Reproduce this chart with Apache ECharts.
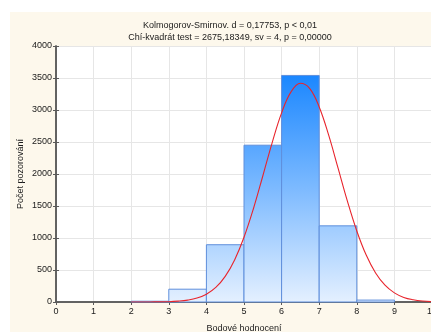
<!DOCTYPE html>
<html>
<head>
<meta charset="utf-8">
<script src="https://cdn.jsdelivr.net/npm/echarts@6/dist/echarts.min.js"></script>
<style>
  html, body { margin: 0; padding: 0; background: #ffffff; }
  #chart { width: 431px; height: 332px; }
</style>
</head>
<body>
<div id="chart"></div>
<script>
// Histogram bins: [lower bound, upper bound, count]
const binStarts = [2, 3, 4, 5, 6, 7, 8];
const binEnds   = [3, 4, 5, 6, 7, 8, 9];
const binCounts = [12, 200, 895, 2450, 3540, 1190, 30];

// Expected normal curve (counts per unit bin)
const curveX = [2, 2.5, 3, 3.25, 3.5, 3.75, 4, 4.25, 4.5, 4.75, 5, 5.25, 5.5, 5.75, 6, 6.25, 6.5,
                6.75, 7, 7.25, 7.5, 7.75, 8, 8.25, 8.5, 8.75, 9, 9.25, 9.5, 9.75, 10, 10.5];
const curveY = [0, 1, 5, 13, 29, 61, 122, 227, 400, 658, 1012, 1457, 1969, 2491, 2955, 3283, 3418,
                3335, 3048, 2611, 2095, 1576, 1110, 733, 454, 263, 143, 72, 35, 15, 6, 1];

const xTicks = [0, 1, 2, 3, 4, 5, 6, 7, 8, 9, 10];
const yTicks = [0, 500, 1000, 1500, 2000, 2500, 3000, 3500, 4000];

const titleLines = [
  'Kolmogorov-Smirnov. d = 0,17753, p < 0,01',
  'Chí-kvadrát test = 2675,18349, sv = 4, p = 0,00000'
];
const xName = 'Bodové hodnocení';
const yName = 'Počet pozorování';

const FONT = '"Liberation Sans", Arial, sans-serif';
const chart = echarts.init(document.getElementById('chart'), null, { renderer: 'canvas' });

const histData = binStarts.map((s, i) => [s, binEnds[i], binCounts[i]]);
const maxCount = Math.max(...binCounts);

const axisLineStyle = { color: '#5a5a5a', width: 1.5 };
const labelStyle = { fontFamily: FONT, fontSize: 9, color: '#1a1a1a' };

chart.setOption({
  backgroundColor: '#ffffff',
  animation: false,
  graphic: [
    { type: 'rect', z: -10, shape: { x: 10, y: 12, width: 430, height: 330 },
      style: { fill: '#fdf8ec' } }
  ],
  title: {
    text: titleLines.join('\n'),
    left: 225, top: 15, textAlign: 'center',
    textStyle: { fontFamily: FONT, fontSize: 9, fontWeight: 'normal', color: '#1a1a1a', lineHeight: 11.5 }
  },
  grid: {
    left: 56, top: 46, right: -1, bottom: 30,
    outerBoundsMode: 'none', containLabel: false,
    backgroundColor: '#ffffff', show: true, borderWidth: 0
  },
  xAxis: [{
    type: 'value', min: 0, max: 10, interval: 1,
    name: xName, nameLocation: 'middle', nameGap: 22, nameMoveOverlap: false,
    nameTextStyle: labelStyle,
    axisLine: { show: true, lineStyle: axisLineStyle },
    axisTick: { show: true, length: 3, lineStyle: { color: '#5a5a5a' } },
    axisLabel: Object.assign({ margin: 5, formatter: v => xTicks.includes(v) ? String(v) : '' }, labelStyle),
    splitLine: { show: true, lineStyle: { color: '#e6e6e6', width: 1 } }
  }, {
    type: 'value', min: 0, max: 10, interval: 1, position: 'top',
    axisLine: { show: true, lineStyle: axisLineStyle },
    axisTick: { show: true, inside: true, length: 3, lineStyle: { color: '#5a5a5a' } },
    axisLabel: { show: false }, splitLine: { show: false }
  }],
  yAxis: [{
    type: 'value', min: 0, max: 4000, interval: 500,
    name: yName, nameLocation: 'middle', nameGap: 31, nameRotate: 90, nameMoveOverlap: false,
    nameTextStyle: labelStyle,
    axisLine: { show: true, lineStyle: axisLineStyle },
    axisTick: { show: true, inside: true, length: 3, lineStyle: { color: '#5a5a5a' } },
    axisLabel: Object.assign({ margin: 4, formatter: v => yTicks.includes(v) ? String(v) : '' }, labelStyle),
    splitLine: { show: true, lineStyle: { color: '#e6e6e6', width: 1 } }
  }, {
    type: 'value', min: 0, max: 4000, interval: 500, position: 'right',
    axisLine: { show: true, lineStyle: axisLineStyle },
    axisTick: { show: true, inside: true, length: 3, lineStyle: { color: '#5a5a5a' } },
    axisLabel: { show: false }, splitLine: { show: false }
  }],
  series: [{
    type: 'custom',
    data: histData,
    encode: { x: [0, 1], y: 2 },
    renderItem: function (params, api) {
      const p0 = api.coord([api.value(0), api.value(2)]);
      const p1 = api.coord([api.value(1), 0]);
      const topY = api.coord([0, maxCount])[1];
      const baseY = api.coord([0, 0])[1];
      return {
        type: 'rect',
        shape: { x: p0[0], y: p0[1], width: p1[0] - p0[0], height: p1[1] - p0[1] },
        style: {
          fill: new echarts.graphic.LinearGradient(0, topY, 0, baseY, [
            { offset: 0, color: '#1b87ff' },
            { offset: 0.5, color: '#7dbaff' },
            { offset: 1, color: '#e4f0ff' }
          ], true),
          stroke: '#5f8fdc', lineWidth: 1
        }
      };
    },
    z: 2
  }, {
    type: 'line',
    data: curveX.map((x, i) => [x, curveY[i]]),
    smooth: 0.4, showSymbol: false,
    lineStyle: { color: '#e8242c', width: 1.1 },
    z: 3
  }]
});
</script>
</body>
</html>
